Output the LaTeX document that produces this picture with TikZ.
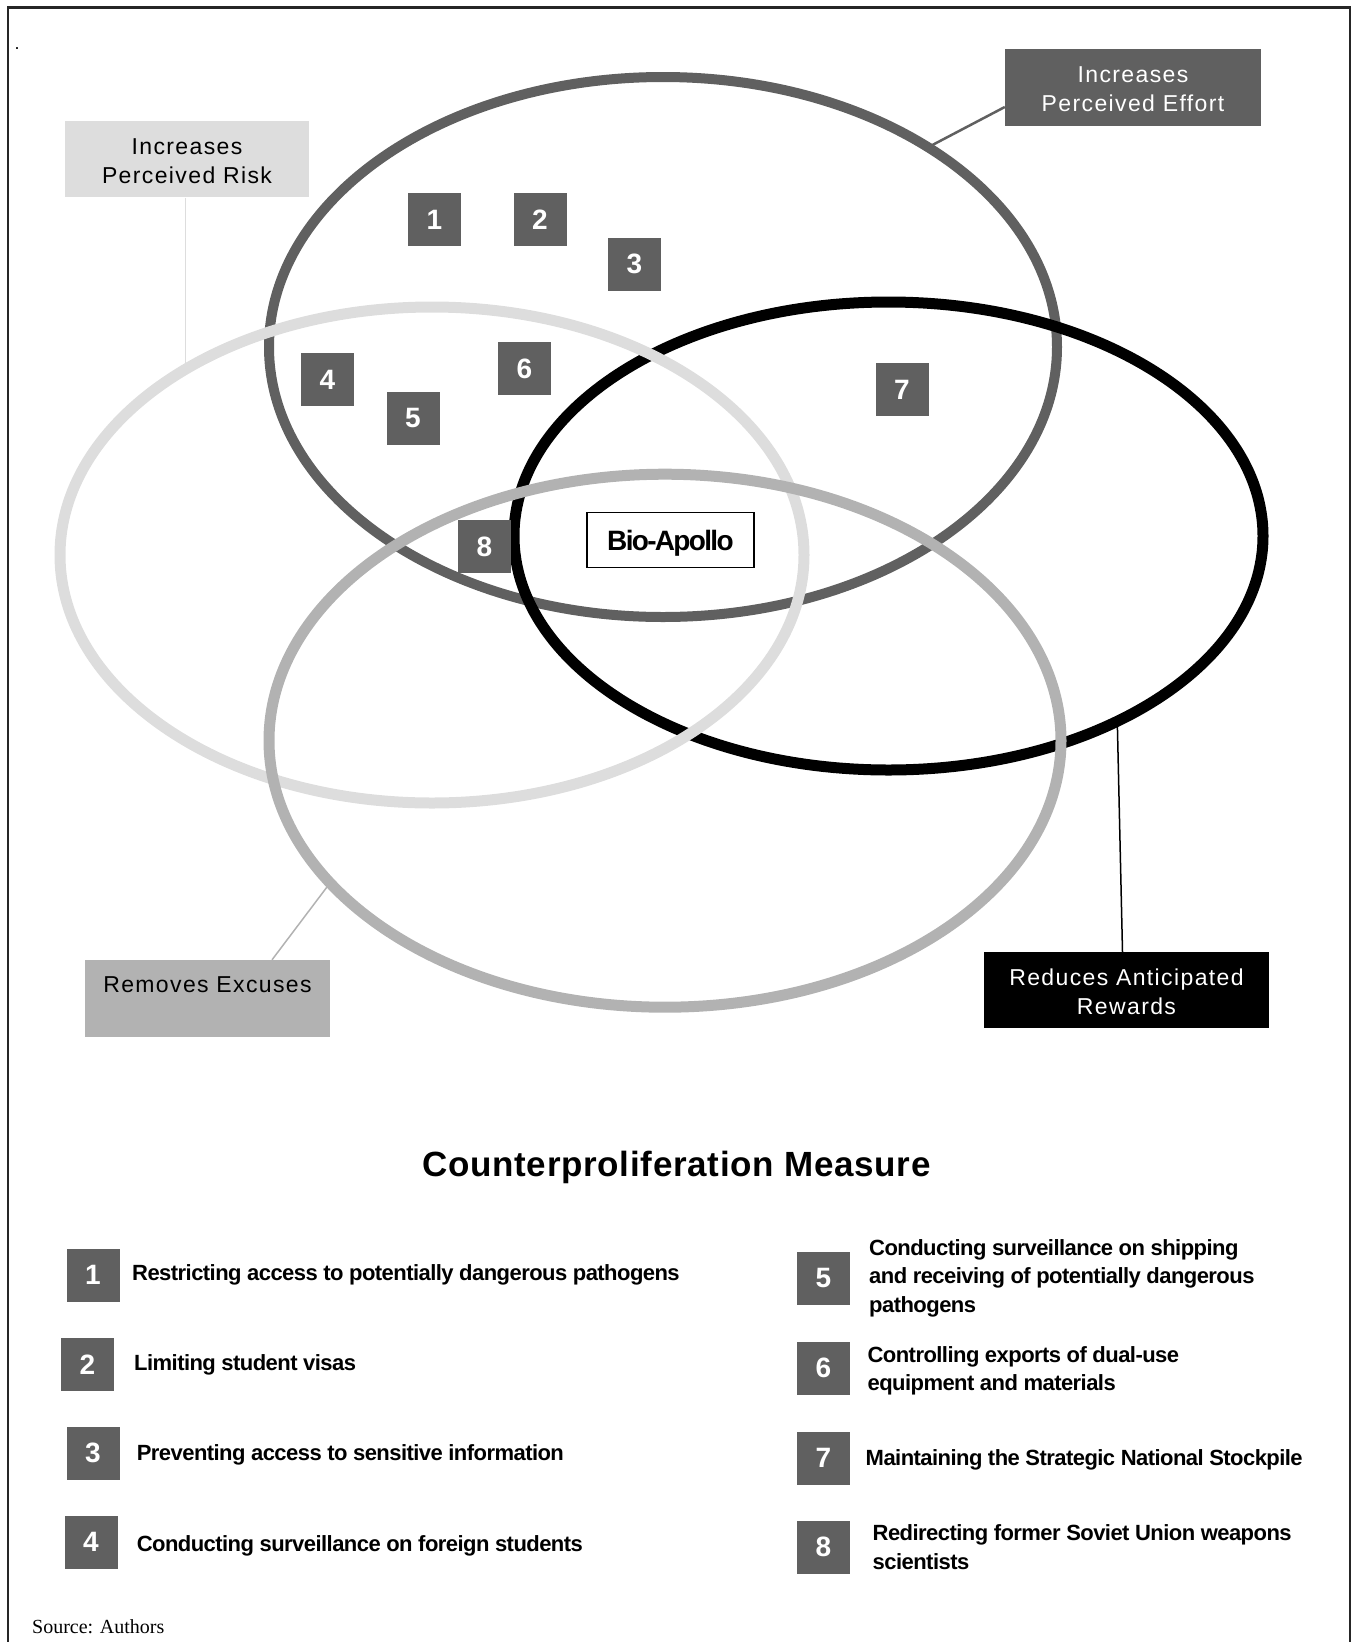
\documentclass[tikz,border=0pt]{standalone}
\usepackage{fontspec}
\setmainfont{Liberation Sans}
\newfontfamily\labf[LetterSpace=6]{Liberation Sans}
\newfontfamily\legf[LetterSpace=-2.5]{Liberation Sans}
\newfontfamily\titf[LetterSpace=2]{Liberation Sans}
\newfontfamily\biof[LetterSpace=-6]{Liberation Sans}
\newfontfamily\srcf{Liberation Serif}
\usetikzlibrary{shapes.geometric,calc,backgrounds}
\definecolor{dkg}{HTML}{606060}
\definecolor{ltg}{HTML}{DDDDDD}
\definecolor{mdg}{HTML}{B2B2B2}
\begin{document}
\begin{tikzpicture}[x=1pt,y=-1pt,
  ring/.style={ellipse, draw, inner sep=0pt, outer sep=0pt},
  numbox/.style={rectangle, fill=dkg, text=white, minimum width=53pt, minimum height=53pt, inner sep=0pt, font=\fontsize{28}{28}\selectfont\bfseries},
  labelbox/.style={rectangle, inner sep=0pt, align=center, font=\labf\fontsize{23}{29}\selectfont},
  labeltext/.style={inner sep=0pt, align=center, font=\labf\fontsize{23}{29}\selectfont},
  legtext/.style={anchor=base west, inner sep=0pt, font=\legf\bfseries\fontsize{22}{28.5}\selectfont},
  conn/.style={line width=1.5pt},
]
\useasboundingbox (0,0) rectangle (1353,1642);
% frame
\draw[line width=2.5pt, black!85] (8,1660) -- (8,7.5) -- (1350,7.5) -- (1350,1660);
\node[inner sep=0pt, font=\fontsize{18}{18}\selectfont, anchor=base] (dot) at (17,49) {.};

% ellipses
\node[ring, draw=dkg, line width=10pt, minimum width=788pt, minimum height=540pt] (eff) at (663,347) {};
\node[ring, draw=black, line width=11pt, minimum width=749pt, minimum height=468pt] (rew) at (888.5,536) {};
\node[ring, draw=ltg, line width=11pt, minimum width=744pt, minimum height=496pt] (risk) at (432,555) {};
\node[ring, draw=mdg, line width=11pt, minimum width=792pt, minimum height=533pt] (exc) at (665,740.7) {};

% number boxes in diagram
\node[numbox] (d1) at (434.5,219.5) {1};
\node[numbox] (d2) at (540,219.5) {2};
\node[numbox] (d3) at (634.5,264.3) {3};
\node[numbox] (d4) at (327.5,379.5) {4};
\node[numbox] (d5) at (413,418.3) {5};
\node[numbox] (d6) at (524.5,368.5) {6};
\node[numbox] (d7) at (902,389.5) {7};
\node[numbox] (d8) at (484.5,546.5) {8};

\node[draw, line width=1.5pt, fill=white, minimum width=167pt, minimum height=55pt, inner sep=0pt, text depth=0pt, font=\biof\bfseries\fontsize{28}{28}\selectfont] (bio) at (670.4,540.2) {Bio-Apollo};

% label boxes
\node[rectangle, fill=ltg, minimum width=244pt, minimum height=76pt, inner sep=0pt] (riskbox) at (187,159.3) {};
\node[labeltext] (risktext) at (187,161.5) {Increases\\Perceived Risk};
\node[rectangle, fill=dkg, minimum width=256pt, minimum height=77pt, inner sep=0pt] (effbox) at (1133,87.5) {};
\node[labeltext, text=white] (efftext) at (1133,89.5) {Increases\\Perceived Effort};
\node[rectangle, fill=black, minimum width=285pt, minimum height=76pt, inner sep=0pt] (rewbox) at (1126.5,990) {};
\node[labeltext, text=white] (rewtext) at (1126.5,992) {Reduces Anticipated\\Rewards};
\node[rectangle, fill=mdg, minimum width=245pt, minimum height=77pt, inner sep=0pt] (excbox) at (207.5,998.5) {};
\node[labeltext] (exctext) at (207.5,985) {Removes Excuses};

% connectors
\begin{scope}[on background layer]
\draw[dkg, line width=2.5pt] ($(effbox.west)+(0,19.5)$) -- (eff.37);
\coordinate (rk) at (risk.143.6);
\draw[ltg, conn] (rk |- riskbox.south) -- (rk);
\draw[mdg, conn] ($(excbox.north west)!0.763!(excbox.north east)$) -- (exc.203.9);
\draw[black, conn] ($(rewbox.north)+(-4,0)$) -- (rew.321.3);
\end{scope}

% title
\node[anchor=base, inner sep=0pt, font=\titf\bfseries\fontsize{35}{35}\selectfont] (title) at (676.5,1176.5) {Counterproliferation Measure};

% legend
\node[numbox] (l1) at (93,1275.3) {1};
\node[numbox] (l2) at (87.5,1364.3) {2};
\node[numbox] (l3) at (93,1453.3) {3};
\node[numbox] (l4) at (91,1542.3) {4};
\node[numbox] (l5) at (823.5,1278.3) {5};
\node[numbox] (l6) at (823.5,1368.3) {6};
\node[numbox] (l7) at (823.5,1458.3) {7};
\node[numbox] (l8) at (823.5,1547.3) {8};

\node[legtext] (t1) at (132,1280) {Restricting access to potentially dangerous pathogens};
\node[legtext] (t2) at (134,1370.7) {Limiting student visas};
\node[legtext] (t3) at (136.6,1460.7) {Preventing access to sensitive information};
\node[legtext] (t4) at (136.6,1551) {Conducting surveillance on foreign students};
\node[legtext] (t5) at (869,1255) {\begin{tabular}[t]{@{}l@{}}Conducting surveillance on shipping\\and receiving of potentially dangerous\\pathogens\end{tabular}};
\node[legtext] (t6) at (867.4,1362.3) {\begin{tabular}[t]{@{}l@{}}Controlling exports of dual-use\\equipment and materials\end{tabular}};
\node[legtext] (t7) at (865.5,1465) {Maintaining the Strategic National Stockpile};
\node[legtext] (t8) at (872.5,1540.7) {\begin{tabular}[t]{@{}l@{}}Redirecting former Soviet Union weapons\\scientists\end{tabular}};

\node[anchor=base west, inner sep=0pt, font=\srcf\fontsize{20}{20}\selectfont] (src) at (32,1633.3) {Source: Authors};
\end{tikzpicture}
\end{document}
